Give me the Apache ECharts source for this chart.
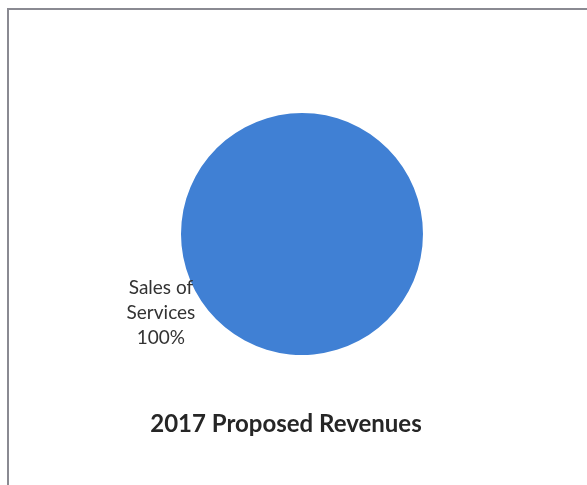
<!DOCTYPE html>
<html>
<head>
<meta charset="utf-8">
<script src="https://cdn.jsdelivr.net/npm/echarts@6/dist/echarts.min.js"></script>
<style>
  html, body { margin: 0; padding: 0; background: #fff; }
  #frame { position: absolute; left: 7px; top: 8px; width: 580px; height: 477px;
           border-top: 2px solid #8a8a92; border-left: 2px solid #8a8a92; box-sizing: border-box; }
  #chart { position: absolute; left: 0; top: 0; width: 587px; height: 485px; }
</style>
</head>
<body>
<div id="frame"></div>
<div id="chart"></div>
<script>
// Revenue sources for the 2017 proposal
const categories = ['Sales of Services'];
const shares = [100];
const titleText = '2017 Proposed Revenues';

const chart = echarts.init(document.getElementById('chart'), null, { renderer: 'canvas' });

chart.setOption({
  animation: false,
  title: {
    text: titleText,
    left: 281,
    top: 407,
    textAlign: 'center',
    textStyle: { fontFamily: 'Lato', fontWeight: 'bold', fontSize: 24, color: '#262626' }
  },
  series: [{
    type: 'pie',
    center: [302, 234],
    radius: 121,
    startAngle: 28,
    silent: true,
    itemStyle: { color: '#4080d4' },
    label: {
      show: true,
      position: 'inside',
      formatter: p => p.name.replace(' of ', ' of\n') + '\n' + p.value + '%',
      fontFamily: 'Lato',
      fontSize: 19,
      lineHeight: 25,
      color: '#333333',
      align: 'center'
    },
    labelLayout: () => ({ dx: -85, dy: 49 }),
    labelLine: { show: false },
    data: categories.map((c, i) => ({ name: c, value: shares[i] }))
  }]
});
</script>
</body>
</html>
